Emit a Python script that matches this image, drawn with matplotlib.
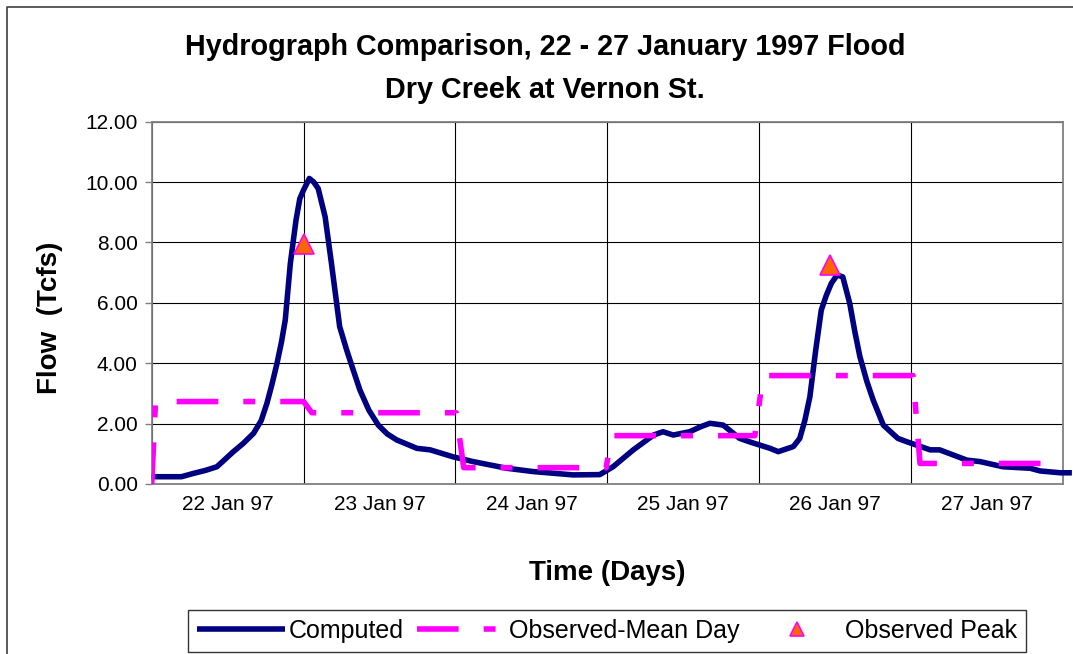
import matplotlib
matplotlib.use("Agg")
import matplotlib.pyplot as plt
from matplotlib.lines import Line2D
from matplotlib.ticker import FixedLocator, FuncFormatter

plt.rcParams["font.family"] = ["Liberation Sans", "DejaVu Sans"]
plt.rcParams["lines.scale_dashes"] = False

# hours since 22 Jan 97 00:00
computed_hours = [0, 4.7, 6.6, 8.5, 10.3, 11.5, 12.9, 14.5, 16.1, 17.3, 18.2, 19.0, 19.8, 20.5,
                  21.1, 21.9, 22.8, 23.4, 24.0, 24.9, 25.6, 26.3, 27.4, 28.4, 29.7, 30.8,
                  31.8, 32.9, 34.3, 35.8, 37.2, 38.7, 41.9, 44.0, 47.6, 50.8,
                  56.1, 60.3, 66.6, 70.8, 72.9, 76.1, 79.3, 80.8, 82.4, 85.0, 86.8, 88.2, 90.3,
                  92.9, 94.4, 97.7, 99.0, 101.4, 102.4, 103.2, 104.0, 104.9, 105.8, 106.6,
                  107.4, 108.3, 109.2, 110.3, 111.1, 111.9, 113.0, 114.0, 115.6, 117.9,
                  119.3, 123.0, 124.5, 128.8, 130.9, 134.5, 138.8, 140.4, 143.6, 145.4]
computed_flow = [0.24, 0.24, 0.35, 0.45, 0.57, 0.80, 1.07, 1.35, 1.68, 2.10, 2.67, 3.30, 4.00,
                 4.70, 5.43, 7.30, 8.74, 9.45, 9.74, 10.12, 10.00, 9.79, 8.85, 7.31, 5.21, 4.44,
                 3.80, 3.11, 2.45, 1.95, 1.66, 1.46, 1.18, 1.13, 0.90, 0.74,
                 0.52, 0.41, 0.30, 0.31, 0.57, 1.13, 1.62, 1.73, 1.62, 1.73, 1.90, 2.01, 1.95,
                 1.51, 1.40, 1.18, 1.07, 1.24, 1.51, 2.10, 2.89, 4.40, 5.76, 6.25,
                 6.65, 6.92, 6.86, 5.98, 5.05, 4.22, 3.40, 2.78, 1.95, 1.51,
                 1.40, 1.13, 1.13, 0.79, 0.74, 0.57, 0.52, 0.43, 0.37, 0.37]

mean_hours = [0, 0.6, 24.0, 25.3, 48.1, 49.3, 71.8, 72.7, 95.3, 96.6, 120.3, 121.4, 144]
mean_flow = [0, 2.73, 2.73, 2.36, 2.36, 0.54, 0.54, 1.60, 1.60, 3.59, 3.59, 0.68, 0.68]

peak_hours = [24.0, 107.2]
peak_flow = [7.95, 7.25]

day_labels = ["22 Jan 97", "23 Jan 97", "24 Jan 97", "25 Jan 97", "26 Jan 97", "27 Jan 97"]

fig = plt.figure(figsize=(10.73, 6.54), dpi=100)
ax = fig.add_axes([0.1414, 0.26, 0.8493, 0.5539])

ax.plot(computed_hours, computed_flow, color="#000080", lw=4, label="Computed",
        solid_capstyle="butt", solid_joinstyle="round", clip_on=False, zorder=3)
ax.plot(mean_hours, mean_flow, color="#FF00FF", lw=4, dashes=(30, 18, 8.6, 18),
        label="Observed-Mean Day", zorder=4)
ax.plot(peak_hours, peak_flow, ls="none", marker="^", ms=14, mfc="#FF6600",
        mec="#FF00FF", mew=1.2, label="Observed Peak", zorder=5)

ax.set_xlim(0, 144)
ax.set_ylim(0, 12)
ax.xaxis.set_major_locator(FixedLocator(range(0, 145, 24)))
ax.xaxis.set_minor_locator(FixedLocator(range(12, 144, 24)))
ax.set_xticklabels([])
ax.set_xticklabels(day_labels, minor=True)
ax.tick_params(axis="x", which="both", length=0)
ax.tick_params(axis="x", which="minor", labelsize=15, pad=8)
ax.set_yticks(range(0, 13, 2))
ax.yaxis.set_major_formatter(FuncFormatter(lambda v, p: f"{v:.2f}"))
ax.tick_params(axis="y", labelsize=15, length=5, width=1, color="#808080", pad=5)

ax.grid(True, which="major", color="black", lw=0.8)
for s in ax.spines.values():
    s.set_color("#808080")
    s.set_linewidth(1.3)

ax.set_xlabel("Time (Days)", fontsize=20, fontweight="bold", labelpad=33)
ax.set_ylabel("Flow  (Tcfs)", fontsize=20, fontweight="bold", labelpad=16)
ax.yaxis.label.set_y(0.458)

fig.text(545 / 1073, 1 - 47 / 654, "Hydrograph Comparison, 22 - 27 January 1997 Flood",
         ha="center", va="center", fontsize=20.7, fontweight="bold")
fig.text(545 / 1073, 1 - 90 / 654, "Dry Creek at Vernon St.",
         ha="center", va="center", fontsize=20.7, fontweight="bold")

leg = fig.legend(loc="lower center", bbox_to_anchor=(607 / 1073, 0.0), ncol=3,
                 fontsize=18, frameon=True, fancybox=False, edgecolor="black",
                 handlelength=3.5, handletextpad=0.16, columnspacing=0.55,
                 borderpad=0.35, markerscale=0.72, borderaxespad=0.1)
leg.get_frame().set_linewidth(1.0)

# outer chart border (top and left only visible)
fig.add_artist(Line2D([7 / 1073, 7 / 1073, 1], [0, 1 - 7 / 654, 1 - 7 / 654],
                      transform=fig.transFigure, color="#404040", lw=1.2))

fig.savefig("out.png", dpi=100)
